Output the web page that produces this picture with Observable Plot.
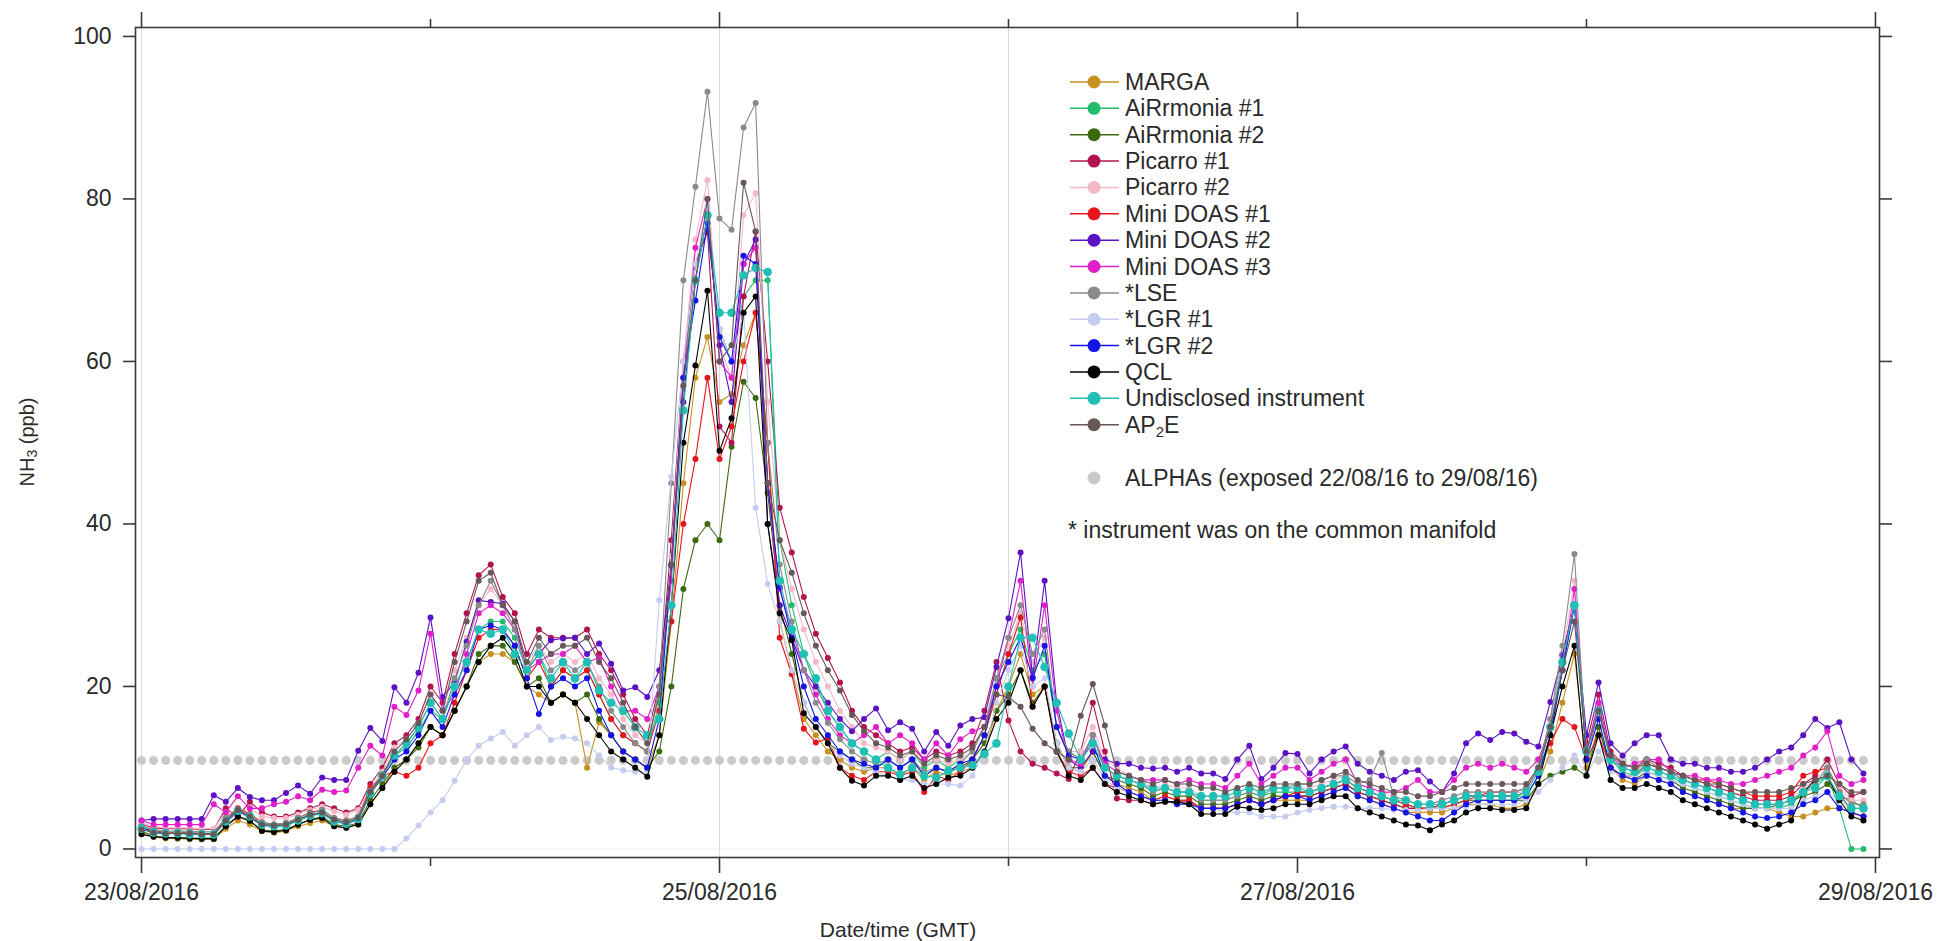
<!DOCTYPE html>
<html><head><meta charset="utf-8">
<script src="https://cdn.jsdelivr.net/npm/d3@7"></script>
<script src="https://cdn.jsdelivr.net/npm/@observablehq/plot@0.6"></script>
<style>
html,body{margin:0;padding:0;background:#fff;}
#chart svg{display:block;}
</style></head><body><div id="chart"></div>
<script>
// Hourly NH3 (ppb), 23/08/2016 00:00 GMT onward, 144 hours (one row per day)
const marga = [
2,1.5,1.3,1.3,1.2,1.2,1.2,2.5,3.5,3,2.2,2,2.2,2.8,3.2,3.5,2.8,2.6,3,5.5,7.5,10,11,13,
15,14,17,20,23,24,24,23,20,19,18,19,18,10,15.6,14,12,11,10,14,28,45,58,63,
55,56,62,66,50,28,22,16,14,12,11,10,9.5,10,10,9,10,8.5,9.5,9,9.5,10,12,17,
20,24,19,20,13,10,9.5,12,9,8,7.5,7,6,6.5,6,6,5,5,5,5.5,6,5.5,6,6,
6,6,6.5,7,7.5,6.5,6,5.5,5,4.5,4.5,4.5,4.5,5,5.5,5.5,5.5,5,5,5.5,8,12,18,24,
10,15,10,8.5,8,9,8.5,8,7,6.5,6,5.5,5,5,5,5,4.5,4,4,4.5,5,5,4.5,4];
const airrmonia1 = [
2.8,2.3,2,2,2,1.9,1.8,3.5,4.8,4,3,2.8,3,3.6,4.2,4.5,3.5,3.2,3.8,7,9,11.5,12.5,14.5,
17,16,20,23,27,28,28,26,22,24,20,22,21,22,19,16,14,13,12,18,35,58,72,76,
64,60,68,70,70,38,30,24,20,17,15,13,12,11,12,11,12,10,11,10,11,12,15,21,
24,27,22,24,15,12,11,14,10,9,8.5,8,7,7.5,7,7,6,6,6,6.5,7,6.5,7,7,
7,7,7.5,8,8.5,7.5,7,6.5,6,5.5,5,5,5.5,6,6.5,6.5,6.5,6.5,6.5,6.5,9,14,22,30,
12,18,11,9.5,9,10,9.5,9,8,7.5,7,6.5,6,5.5,5,5,5,5.5,7,8,9,5,0,0];
const airrmonia2 = [
2.2,1.6,1.4,1.3,1.3,1.2,1.2,2.8,4,3.4,2.3,2.2,2.4,3,3.6,4,3,2.8,3.2,6,8,10,11,12.5,
15,14,17,20,24,25,25,23,20,21,18,19,18,19,16,14,12,11,10,12,20,32,38,40,
38,49.5,57.5,55.5,43.8,30,24,18,15,13,12,11,10,10,11,10,11,9,10,9.5,10,11,13,17,
19,22,18,20,13,10,10,12,9,8.5,8,7.5,6.5,7,6.5,6.5,5.5,5.5,5.5,6,6.5,6,6.5,6.5,
6.5,6.5,7,7.5,8,7,6.5,6,5.5,5,5,5,5,5.5,6,6,6,6,6,6,8,9,9.5,10,
9,15,10,9,8.5,9.5,9,8.5,7.5,7,6.5,6,5.5,5,5,5,5.5,6,6.5,7,8,6.5,6,5];
const picarro1 = [
3,2.6,2.5,2.5,2.5,2.4,2.4,5,4,5.8,4.5,4,4,4.5,5,5.5,5,4.5,5,8,10,13,14,16,
20,18,24,29,33.7,35,31,29,24,27,26,26,26,27,24,22,19,16,14,20,38,60,72,76,
52,50,68,76,60,42,36.5,31,26.5,23.5,20.5,17,15,14,13,12,12.5,11,12,11.5,12,13,17,23,
15.8,12,10.5,10,9.3,8.6,12,18,12,6.2,6,6,5.5,5.8,5.8,5.8,5,5,5,5.5,6,5.5,6,6.5,
6.5,6.5,7,7.5,8,7,6.5,6,5.5,5,5,5,5.5,6,6.5,6.5,6.5,6.5,6.5,7,10,16,24,30,
13,19,12,10.5,10,11,10.5,10,9,8.5,8,7.5,7,6.5,6,6,6,6.5,8,9,11,8,6.5,7];
const picarro2 = [
3.2,2.8,2.6,2.6,2.6,2.5,2.5,4.5,4.5,5,4,3.8,3.8,4.2,4.8,5.2,4.6,4.2,4.8,7.5,9.5,12.5,13.5,15.5,
19,17,22,26,30,32,30,27,23,25,23,24,23,24,21,19,16,14,13,19,36,60,75,82.3,
62,58,78,80.7,55,38,32,27,23,20,17,15,13,12.5,12,11,12,10.5,11,10.5,11,12,15,21,
25,29,23,26,15,12,12,15,11,10,9,8.5,7.5,8,7.5,7.5,6.5,6.5,6.5,7,7.5,7,7.5,7.5,
7.5,7.5,8,8.5,9,8,7.5,7,6.5,6,5.5,5.5,6,6.5,7,7,7,7,7,7,10,16,24,33,
12,18,11,10,9.5,10.5,10,9.5,8.5,8,7.5,7,6.5,6,5.5,5.5,5.5,6,7.5,8.5,10,7.5,6,6];
const miniDoas1 = [
2.6,2.2,2,2,2,1.9,1.9,3.8,5,4.3,3.3,3,3.2,3.8,4.5,4.8,3.8,3.5,4,7.5,9,9.5,9,10,
13,14,18,22,26,27,27,25,21,23,20,22,21,22,19,16,14,13,12,17,28,40,48,58,
48,52,60,66,50,26,21.5,14.8,13.1,13.6,10,9,8.5,9.5,9.5,9,9.5,7,9,8.5,9.5,11,14,19,
24,28.5,17.5,20,12,9.5,9,10,8,7.5,7,6.5,6,6.5,6,6,5,5,5,5.5,6,5.5,6,6.5,
7,7,7.5,8,8.5,7.5,7,6.5,6,5.5,5,5,5,5.5,6,6.5,7,7,7,7.5,10,13,16,15,
11,14,10,9,9,10.5,10,9.5,9,8.5,8.5,8,7.5,7,6.5,6.5,6.5,7,9,9.5,10,7,4.5,4];
const miniDoas2 = [
3.5,3.7,3.7,3.7,3.7,3.7,6.6,5.8,7.5,6.4,6,6,6.9,7.8,6.8,8.8,8.5,8.5,12.1,14.9,13.3,19.9,18,21.7,
28.5,18.7,20.5,25.5,30.6,30.4,30.2,28,22,24,25.7,25.9,26,24,25.3,22.8,19.5,19.9,18.7,22,34.9,55,70,78,
62,55,72,75,40,30,26,22,20,18,16,14.5,16,17.3,14.6,15.6,14.8,12,14.4,12.7,15.2,16,16.2,22.4,
28.4,36.5,21.1,33,18,11,10,12,11,10.5,10.5,10,9.9,10,9.5,10,9.3,9.3,8.6,11,12.7,8.6,10,11.8,
11.7,9.3,11,12,12.6,10.5,9.5,9,8.5,9.5,9.7,8.3,7,9.3,13,14.2,13.4,14.4,14.2,13.2,12.6,18.1,23.8,30,
14,20.5,13,11.5,13,14,14,11,10.5,10.5,10,10,9.5,9.5,10,11,12,12.5,14,16,14.9,15.6,11,9.3];
const miniDoas3 = [
3.5,3,3,3,3,3,5.5,4.5,6.5,5,5,5.5,5.8,6.5,6,7.3,7,7.2,10,12.7,11.5,17.5,16.5,19.5,
26.5,17,19,24,29,30,29,27,22,23,24,24,25,23,23.5,20,17,17,16,20,33,58,74,80,
60,58,72,74,45,32,27,22,19,16,14,13,14,15,13,14,13,11,13,11.5,13.5,14.5,15,20,
26,33,20,30,17,11,10.5,14,10.5,9.5,9,8.5,8.5,8.5,8,8.5,8,8,7.5,9,10.5,8,9,10,
10,8.5,9.5,10.5,11,8,7.5,7,7,7.5,8.5,7,7,8.5,10,10.5,10,10.5,10,9.5,11,15,22,32,
12,18,11.5,10,10.5,11,11,9.5,9,9,8.5,8.5,8,8,8.5,9,9.5,10,11.5,12.5,14.5,9,8,8.5];
const lse = [
2.8,2.4,2.2,2.2,2.2,2.1,2.1,3.8,4.8,4.2,3.2,3,3.2,3.8,4.4,4.8,3.8,3.5,4,7.2,9.2,11.5,13,15,
18,16,21,25,30,33,30,27,22,25,22,23,22,23,20,17,15,13,12,20,45,70,81.5,93.2,
77.6,76.2,88.8,91.8,50,35,28,22,18,15.5,13.5,12,11,10.5,11,10,11,9.5,10,9.5,10.5,12,15,21,
26,30,24,27,15,12,11,14,10,9,8.5,8,7,7.5,7,7,6,6,6,6.5,7,6.5,7.5,7.5,
8,8,8.5,9,9,8,8.5,11.8,6.5,6,5.5,5.5,6,6.5,7,7,7,7,7,7.5,10,16,25,36.3,
11,17,11,10,9.5,11,10,9.5,8.5,8,7.5,7,6.5,6,5.5,5.5,5.5,6,7,8,10,7,5.5,5.5];
const lgr1 = [
0,0,0,0,0,0,0,0,0,0,0,0,0,0,0,0,0,0,0,0,0,0,1.3,2.9,
4.5,6,8.4,11,12.7,13.6,14.4,12.7,14,15,13.4,13.8,13.6,13,11.5,10,9.7,9.5,9.5,30.6,45.8,60,72,79,
64,60,66,42,32.6,28,22,18,15,13,11.5,10.5,10,9.5,9,8.5,8.5,8,8,8,7.8,9,12,18,
22,25,20,21,13,10,9.5,11,8.5,7.5,7,6.5,6,6,5.5,5.5,5,5,4.5,4.5,4.5,4,4,4,
4.5,4.8,5,5.2,5.2,5,5,5,4.8,4.8,4.8,5,5,5,5.2,5.5,5.5,5.5,5.5,6,7,8.5,10,11.5,
9,12,9.5,9,9,9.5,9,8.5,8,7.5,7,6.5,6,5.5,5,5,5,5,6,6.5,7,6,5,5];
const lgr2 = [
2.6,2.1,1.9,1.9,1.9,1.8,1.8,3.3,4.6,3.9,2.9,2.8,2.9,3.5,4.1,4.4,3.4,3.1,3.6,6.8,8.8,11,12,14,
17,15,19,22,27,27.5,27,25,21,16.6,20,21,20,21,17,14,12,11,10,16,35,58,67.5,77,
63,60,73,72,45,32.2,26,20,16,14,12,11,10.5,10,11,10,11,9,10,9.5,10.5,11,14,20,
23,26,21,25,15,11.5,11,13,9,8,7,6.5,6,6,5.5,5.5,5,5,5,5.5,6,5.5,6,6.5,
6.5,6,6.5,7,7.5,6.5,6,5.5,5,4.5,4,3.5,3.5,4.5,5.5,6,6,6,6,6.5,9,14,22,30,
11,16,10,9,8.5,9,8.5,8,7,6.5,6,5.5,5,4.5,4,3.8,4,4.5,5.5,6,7,5,4.5,4];
const qcl = [
1.8,1.5,1.4,1.4,1.3,1.3,1.3,2.8,4,3.5,2.2,2.1,2.3,3,3.6,3.8,2.8,2.6,3,5.5,7.5,9.5,11,13,
15,14,17,20,23,25,26,24,20,20,18,19,18,16,14,12,11,10,8.9,14,30,50,59.5,68.7,
49,53,66,68,40,29,25.7,16.7,15,13,10,8.4,7.8,9,9,8.5,9,7.5,8,8.8,9,10,12,16,
18,22,17.5,20,12,9,8.5,10,8,7,6.5,6,5.5,5.8,5.8,5.5,4.3,4.3,4.3,5.2,5,4.8,5,5.5,
5.5,5.5,6,6.5,6.5,5,4.5,4,3.5,3,2.9,2.3,3,3.5,4.5,5,5,4.8,4.8,5,8,14,20,25,
9,14,8.5,7.5,7.5,8,7.5,7,6,5.5,5,4.5,4,3.5,3,2.5,3,3.5,7,8.5,9,6,4,3.5];
const undisclosed = [
2.5,2,1.9,1.9,1.8,1.8,1.8,3.4,4.7,4,3,2.8,2.9,3.5,4.1,4.4,3.4,3.1,3.7,6.8,9,11.5,13,15,
18,16,20,23,27,26.5,27,24,22,24,21,23,21,23,19.5,18,17,15,14,16,30,54,70,78,
66,66,70.6,71.5,71,33,27,24,21,17,15,13,12,11,10,9.2,10,9,8.8,9.6,10,10.3,11.7,13,
20,26,26,22.4,18,14.2,11,13,10,9,8.5,8,7.5,7.5,7,7,6.5,6.5,6.5,7,7.5,7,7.5,7.5,
7.5,7,7.5,8,8.5,7.5,7,6.5,6,6,5.5,5.5,5.5,6,6.5,6.5,6.5,6.5,6.5,7,9.5,15,23,30,
12,17,11,10,9.5,10,9.5,9,8.5,8,7.5,7,6.5,6,5.5,5.5,5.5,6,7,7.5,9,6.5,5,5];
const ap2e = [
2.4,2,1.9,1.9,1.9,1.8,1.8,3.5,4.8,4,3,2.9,3,3.6,4.2,4.5,3.6,3.3,3.8,7,9,12,13.5,15.5,
19,17,23,28,33,34,30,28,23,26,24,25,25,26,23,21,18,15,13,19,35,57,70,80,
60,62,82,76,45,38,34,29,25,22,19.5,16.5,14.5,13,12.5,11.5,12,10.5,11.5,11,11.5,12.5,15,19,
18.7,17.5,14.8,13,12,11,16.4,20.3,15.2,9.5,9,8.5,8,8.5,8,8,7.5,7.5,7,7.5,8,7.5,8,8,
8,8,8.5,9,9.5,8.5,8,7.5,7,7,6.5,6.5,7,7.5,8,8,8,8,8,8,10,15,22,28,
12,17,11.5,10.5,10,10.5,10,9.5,9,8.5,8,8,7.5,7,7,7,7,7.5,8,8.5,9,8,7,7];
// ALPHA passive samplers: one exposure value for the whole period
const alphaNH3 = 10.9;

const seriesNames = ["MARGA","AiRrmonia #1","AiRrmonia #2","Picarro #1","Picarro #2","Mini DOAS #1","Mini DOAS #2","Mini DOAS #3","*LSE","*LGR #1","*LGR #2","QCL","Undisclosed instrument","AP2E"];
const seriesValues = [marga,airrmonia1,airrmonia2,picarro1,picarro2,miniDoas1,miniDoas2,miniDoas3,lse,lgr1,lgr2,qcl,undisclosed,ap2e];
const seriesColors = ["#c8901e","#22bd6c","#3b6a10","#b3144f","#f4b8c9","#e6151c","#5c12c2","#e01fc9","#8a8a8a","#c5ccf0","#1414e6","#000000","#20c0b5","#675757"];
const seriesDotR = [3,3,3,3,3,3,3,3,3,3,3,3,4.3,3];

const yTicks = [0,20,40,60,80,100];
const majorDayLabels = ["2016-08-23","2016-08-25","2016-08-27","2016-08-29"];
const minorDayLabels = ["2016-08-24","2016-08-26","2016-08-28"];
const gridDayLabels = ["2016-08-23","2016-08-25","2016-08-26"];

const startMs = Date.UTC(2016,7,23,0,0);
const times = marga.map((_, i) => new Date(startMs + i*3600e3));
const toDate = s => new Date(s + "T00:00:00Z");
const majorDays = majorDayLabels.map(toDate);
const minorDays = minorDayLabels.map(toDate);
const gridDays = gridDayLabels.map(toDate);

const FONT = "'Liberation Sans', Arial, Helvetica, sans-serif";
const AX = "#3a3a3a";

const marks = [
  Plot.ruleX(gridDays, {stroke: "#d9d9d9", strokeWidth: 1}),
  Plot.ruleY([0], {stroke: "#eeeeee", strokeWidth: 1}),
  Plot.dot(times, {x: d => d, y: () => alphaNH3, r: 4.5, fill: "#cacaca", stroke: "none"})
];
seriesValues.forEach((vals, k) => {
  const rows = vals.map((v, i) => ({t: times[i], v}));
  marks.push(Plot.line(rows, {x: "t", y: "v", stroke: seriesColors[k], strokeWidth: 1.1}));
  marks.push(Plot.dot(rows, {x: "t", y: "v", fill: seriesColors[k], r: seriesDotR[k], stroke: "none"}));
});
marks.push(
  Plot.frame({stroke: AX, strokeWidth: 1.6}),
  Plot.axisY(yTicks, {anchor: "left", tickSize: 12, tickPadding: 12, strokeWidth: 1.6, stroke: AX, label: null, fontSize: 23, fill: "#2a2a2a"}),
  Plot.axisY(yTicks, {anchor: "right", tickSize: 12, strokeWidth: 1.6, stroke: AX, label: null, tickFormat: () => ""}),
  Plot.axisX(majorDays, {anchor: "bottom", tickSize: 16, tickPadding: 10, strokeWidth: 1.6, stroke: AX, label: null, tickFormat: d3.utcFormat("%d/%m/%Y"), fontSize: 23, fill: "#2a2a2a"}),
  Plot.axisX(minorDays, {anchor: "bottom", tickSize: 9, strokeWidth: 1.6, stroke: AX, label: null, tickFormat: () => ""}),
  Plot.axisX(majorDays, {anchor: "top", tickSize: 16, strokeWidth: 1.6, stroke: AX, label: null, tickFormat: () => ""}),
  Plot.axisX(minorDays, {anchor: "top", tickSize: 9, strokeWidth: 1.6, stroke: AX, label: null, tickFormat: () => ""})
);

const chart = Plot.plot({
  width: 1954, height: 941,
  marginLeft: 135, marginRight: 75, marginTop: 27, marginBottom: 84,
  x: {type: "utc", domain: [new Date(Date.UTC(2016,7,22,23,30)), new Date(Date.UTC(2016,7,29,0,20))]},
  y: {domain: [-1.05, 101.1]},
  style: {fontFamily: FONT, fontSize: "23px", color: "#2a2a2a", background: "#fff"},
  marks
});
document.getElementById("chart").appendChild(chart);

// Axis titles and legend
const svg = d3.select(chart);
const yt = svg.append("text").attr("transform", "translate(27,442) rotate(-90)")
  .attr("text-anchor", "middle").attr("dominant-baseline", "central")
  .attr("font-family", FONT).attr("font-size", 20).attr("fill", "#2a2a2a");
yt.append("tspan").text("NH");
yt.append("tspan").text("3").attr("font-size", 14).attr("dy", 5);
yt.append("tspan").text(" (ppb)").attr("dy", -5);

svg.append("text").attr("x", 898).attr("y", 929).attr("text-anchor", "middle")
  .attr("dominant-baseline", "central").attr("font-family", FONT).attr("font-size", 21)
  .attr("fill", "#2a2a2a").text("Date/time (GMT)");

const lg = svg.append("g").attr("font-family", FONT).attr("font-size", 23)
  .attr("fill", "#2a2a2a").attr("text-anchor", "start");
const lx = 1094, ly0 = 82, dy = 26.36;
seriesNames.forEach((name, k) => {
  const y = ly0 + k*dy;
  lg.append("line").attr("x1", lx-24).attr("x2", lx+25).attr("y1", y).attr("y2", y)
    .attr("stroke", seriesColors[k]).attr("stroke-width", 1.5);
  lg.append("circle").attr("cx", lx).attr("cy", y).attr("r", 6.5).attr("fill", seriesColors[k]);
  const t = lg.append("text").attr("x", 1125).attr("y", y).attr("dominant-baseline", "central")
    .attr("text-anchor", "start");
  if (name === "AP2E") {
    t.append("tspan").text("AP");
    t.append("tspan").text("2").attr("font-size", 15).attr("dy", 6);
    t.append("tspan").text("E").attr("dy", -6);
  } else t.text(name);
});
lg.append("circle").attr("cx", lx).attr("cy", 478).attr("r", 6.5).attr("fill", "#cacaca");
lg.append("text").attr("x", 1125).attr("y", 478).attr("dominant-baseline", "central")
  .attr("text-anchor", "start").text("ALPHAs (exposed 22/08/16 to 29/08/16)");
lg.append("text").attr("x", 1068).attr("y", 530).attr("dominant-baseline", "central")
  .attr("text-anchor", "start").text("* instrument was on the common manifold");
</script></body></html>
